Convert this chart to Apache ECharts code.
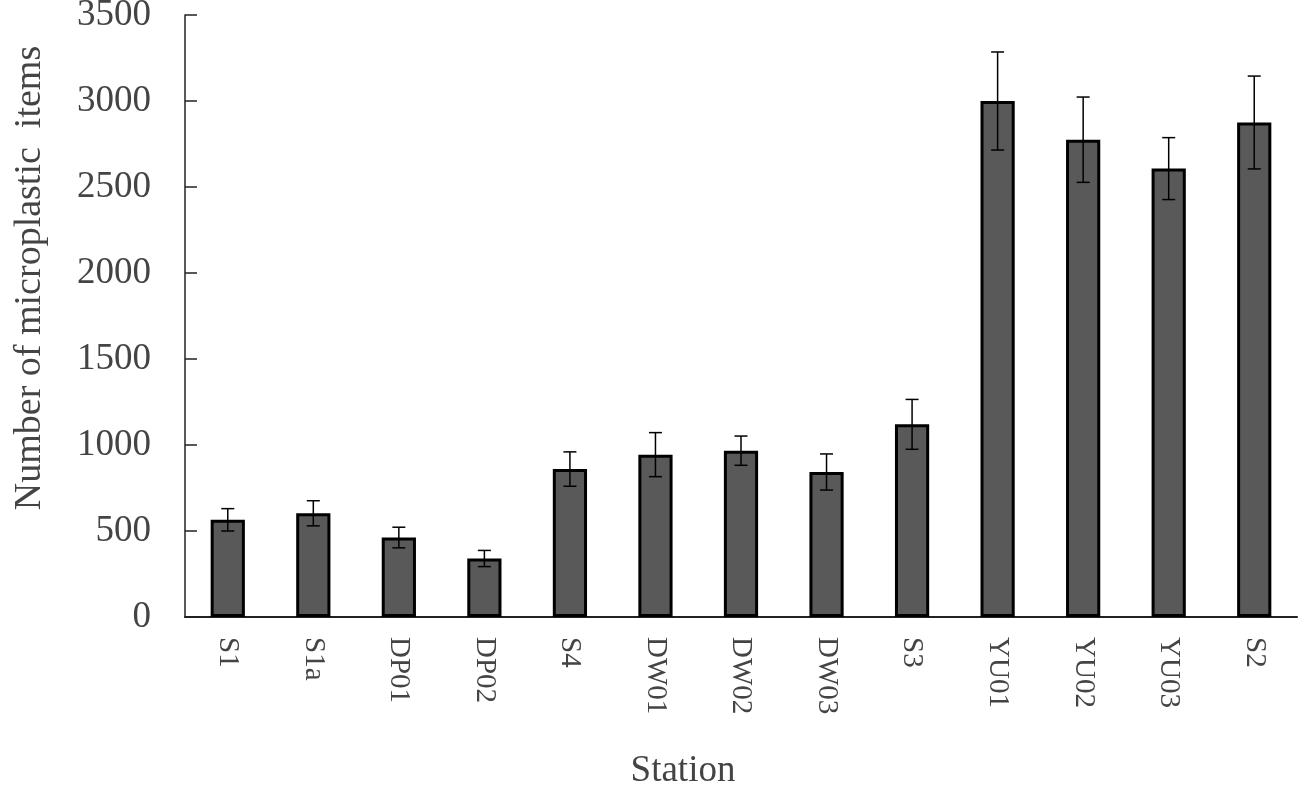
<!DOCTYPE html>
<html>
<head>
<meta charset="utf-8">
<script src="https://cdn.jsdelivr.net/npm/echarts@6/dist/echarts.min.js"></script>
<style>
  html, body { margin: 0; padding: 0; background: #fff; }
  #chart { width: 1299px; height: 788px; }
</style>
</head>
<body>
<div id="chart"></div>
<script>
// stations along the x axis
var stations = ['S1', 'S1a', 'DP01', 'DP02', 'S4', 'DW01', 'DW02', 'DW03', 'S3', 'YU01', 'YU02', 'YU03', 'S2'];
// mean number of microplastic items
var means = [565, 603, 462, 340, 860, 944, 967, 843, 1120, 3000, 2775, 2607, 2875];
// error (+/-)
var errors = [65, 73, 60, 47, 100, 128, 85, 105, 145, 285, 248, 180, 270];
var yTicks = [0, 500, 1000, 1500, 2000, 2500, 3000, 3500];

var errData = stations.map(function (s, i) {
    return [i, means[i] - errors[i], means[i] + errors[i]];
});

var myChart = echarts.init(document.getElementById('chart'));
myChart.setOption({
    animation: false,
    grid: { left: 185, right: 2, top: 15, bottom: 171, outerBoundsMode: 'none' },
    xAxis: {
        type: 'category',
        data: stations,
        name: 'Station',
        nameLocation: 'middle',
        nameGap: 136,
        nameTextStyle: { fontFamily: 'Liberation Serif', fontSize: 37, color: '#444', padding: [0, 116, 0, 0] },
        axisLine: { lineStyle: { color: '#222', width: 2 } },
        axisTick: { show: false },
        axisLabel: {
            rotate: -90,
            margin: 20,
            fontFamily: 'Liberation Serif',
            fontSize: 29,
            color: '#444'
        }
    },
    yAxis: {
        type: 'value',
        min: yTicks[0],
        max: yTicks[yTicks.length - 1],
        interval: 500,
        name: 'Number of microplastic  items',
        nameLocation: 'middle',
        nameGap: 136,
        nameRotate: 90,
        nameTextStyle: { fontFamily: 'Liberation Serif', fontSize: 38, color: '#444', padding: [0, 0, 0, 76] },
        axisLine: { show: true, lineStyle: { color: '#222', width: 1.5 } },
        axisTick: { show: true, inside: true, length: 12, lineStyle: { color: '#222', width: 1.5 } },
        splitLine: { show: false },
        axisLabel: {
            margin: 34,
            fontFamily: 'Liberation Serif',
            fontSize: 37,
            color: '#444',
            formatter: function (v) { return String(v); }
        }
    },
    series: [
        {
            type: 'bar',
            data: means,
            barWidth: '40%',
            itemStyle: { color: '#595959', borderColor: '#000', borderWidth: 3 }
        },
        {
            type: 'custom',
            data: errData,
            z: 10,
            renderItem: function (params, api) {
                var lo = api.coord([api.value(0), api.value(1)]);
                var hi = api.coord([api.value(0), api.value(2)]);
                var half = 6.5;
                var style = { stroke: '#000', lineWidth: 1.5 };
                return {
                    type: 'group',
                    children: [
                        { type: 'line', shape: { x1: lo[0], y1: lo[1], x2: hi[0], y2: hi[1] }, style: style },
                        { type: 'line', shape: { x1: lo[0] - half, y1: lo[1], x2: lo[0] + half, y2: lo[1] }, style: style },
                        { type: 'line', shape: { x1: hi[0] - half, y1: hi[1], x2: hi[0] + half, y2: hi[1] }, style: style }
                    ]
                };
            }
        }
    ]
});
</script>
</body>
</html>
